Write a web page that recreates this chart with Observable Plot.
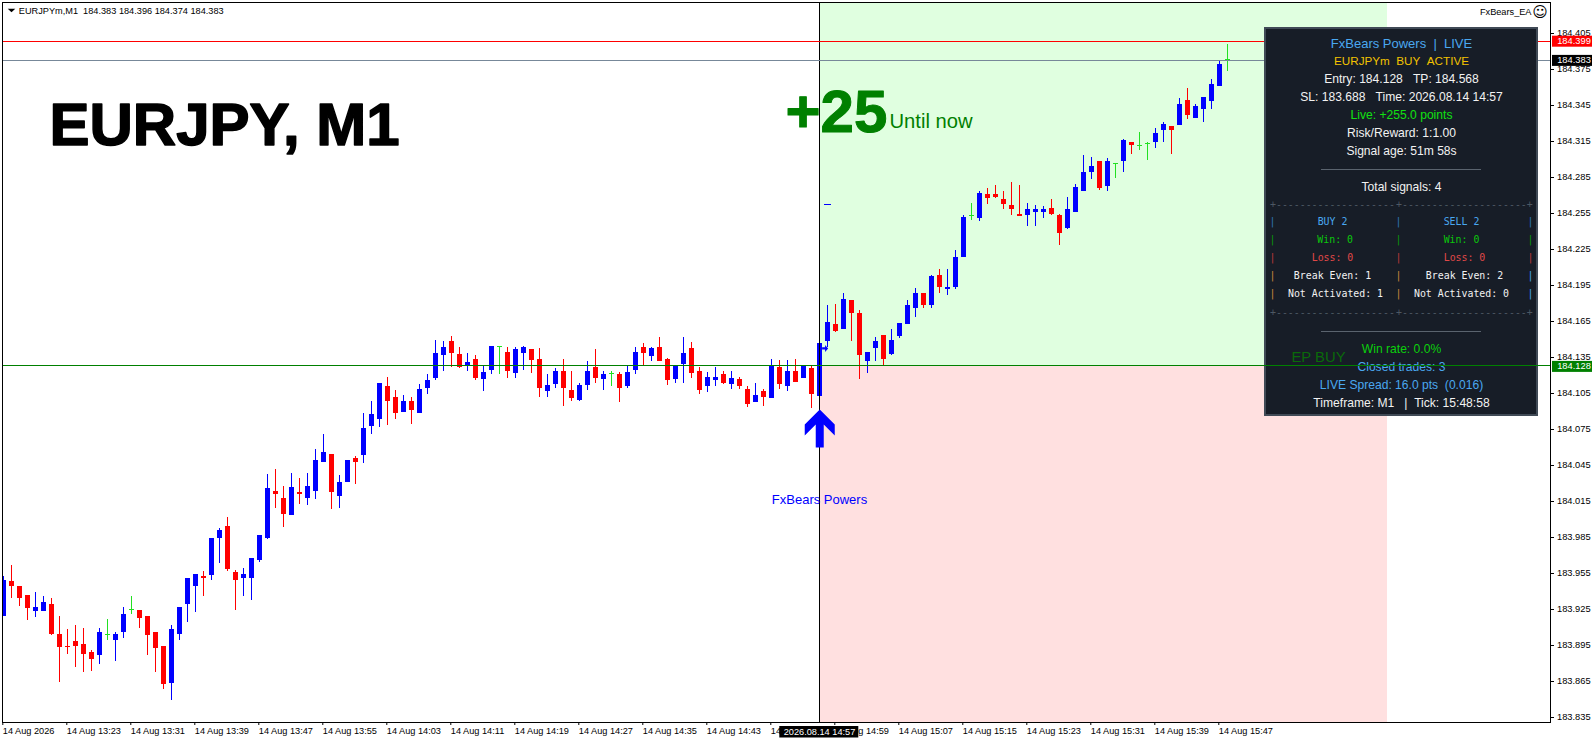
<!DOCTYPE html>
<html><head><meta charset="utf-8">
<style>html,body{margin:0;padding:0;background:#fff;overflow:hidden}svg{display:block}</style>
<script src="https://cdn.jsdelivr.net/npm/d3@7"></script>
<script src="https://cdn.jsdelivr.net/npm/@observablehq/plot@0.6"></script>
</head><body><div id="chart"></div>
<script>
const open = [
183.920,183.949,183.945,183.937,183.924,183.924,183.930,183.905,183.895,183.899,
183.896,183.890,183.887,183.904,183.900,183.906,183.925,183.925,183.920,183.906,
183.895,183.864,183.905,183.930,183.945,183.953,183.954,183.985,183.995,183.956,
183.951,183.951,183.966,183.985,184.024,184.018,184.004,184.023,184.018,184.024,
184.048,184.055,184.020,184.031,184.051,184.054,184.078,184.084,184.111,184.102,
184.090,184.099,184.089,184.110,184.118,184.137,184.149,184.138,184.129,184.134,
184.117,184.125,184.144,184.140,184.122,184.139,184.142,184.134,184.107,184.113,
184.124,184.108,184.100,184.112,184.127,184.117,184.122,184.121,184.111,184.125,
184.144,184.136,184.144,184.134,184.117,184.130,184.143,184.124,184.111,184.116,
184.121,184.113,184.117,184.109,184.098,184.107,184.101,184.127,184.111,184.124,
184.118,184.126,184.103,184.149,184.163,184.159,184.183,184.172,184.132,184.143,
184.154,184.138,184.153,184.163,184.176,184.189,184.179,184.204,184.192,184.194,
184.219,184.253,184.251,184.271,184.271,184.267,184.262,184.255,184.254,184.256,
184.256,184.260,184.254,184.243,184.256,184.274,184.290,184.299,184.278,184.297,
184.299,184.315,184.312,184.313,184.315,184.325,184.328,184.329,184.350,184.335,
184.342,184.349,184.361,184.383];
const close = [
183.950,183.945,183.935,183.926,183.927,183.931,183.905,183.894,183.894,183.895,
183.888,183.884,183.906,183.904,183.905,183.921,183.925,183.918,183.904,183.893,
183.863,183.909,183.927,183.951,183.955,183.951,183.985,183.991,183.959,183.950,
183.955,183.968,183.987,184.026,184.021,184.005,184.027,184.021,184.028,184.050,
184.056,184.023,184.031,184.050,184.048,184.076,184.088,184.114,184.099,184.089,
184.099,184.091,184.109,184.116,184.139,184.144,184.139,184.127,184.131,184.118,
184.123,184.145,184.144,184.124,184.142,184.144,184.133,184.110,184.112,184.124,
184.110,184.101,184.112,184.124,184.118,184.121,184.122,184.110,184.123,184.140,
184.139,184.143,184.132,184.116,184.129,184.139,184.122,184.108,184.119,184.119,
184.114,184.118,184.111,184.096,184.104,184.102,184.129,184.113,184.124,184.115,
184.129,184.105,184.147,184.165,184.157,184.184,184.172,184.137,184.140,184.149,
184.134,184.150,184.164,184.179,184.189,184.179,184.203,184.194,184.194,184.219,
184.252,184.253,184.272,184.268,184.269,184.263,184.259,184.253,184.259,184.259,
184.259,184.255,184.239,184.259,184.277,184.290,184.295,184.276,184.299,184.297,
184.316,184.312,184.312,184.313,184.322,184.330,184.325,184.346,184.337,184.345,
184.352,184.363,184.380,184.383];
const high = [
183.953,183.962,183.945,183.937,183.940,183.936,183.935,183.920,183.909,183.912,
183.910,183.891,183.910,183.917,183.906,183.927,183.936,183.925,183.920,183.906,
183.895,183.912,183.927,183.951,183.955,183.957,183.985,183.993,184.002,183.958,
183.960,183.968,183.987,184.038,184.042,184.028,184.039,184.035,184.039,184.059,
184.071,184.055,184.037,184.050,184.053,184.089,184.099,184.114,184.119,184.108,
184.104,184.102,184.113,184.121,184.150,184.149,184.153,184.144,184.139,184.137,
184.129,184.145,184.145,184.144,184.144,184.145,184.142,184.143,184.121,184.126,
184.134,184.124,184.114,184.132,184.142,184.124,184.124,184.123,184.129,184.144,
184.147,184.144,184.152,184.135,184.129,184.152,184.148,184.127,184.123,184.127,
184.124,184.124,184.119,184.111,184.114,184.109,184.134,184.133,184.133,184.134,
184.129,184.128,184.147,184.179,184.180,184.189,184.183,184.175,184.140,184.152,
184.154,184.159,184.164,184.183,184.193,184.189,184.204,184.209,184.209,184.225,
184.254,184.264,184.274,184.276,184.279,184.274,184.281,184.279,184.264,184.262,
184.261,184.267,184.255,184.269,184.280,184.304,184.302,184.299,184.301,184.297,
184.317,184.315,184.323,184.315,184.326,184.331,184.328,184.351,184.360,184.346,
184.352,184.367,184.383,184.396];
const low = [
183.920,183.935,183.928,183.916,183.919,183.924,183.904,183.865,183.888,183.877,
183.873,183.874,183.880,183.900,183.882,183.901,183.921,183.910,183.887,183.873,
183.859,183.850,183.900,183.915,183.923,183.936,183.950,183.964,183.957,183.925,
183.936,183.933,183.965,183.984,184.010,183.994,184.004,184.013,184.012,184.017,
184.048,184.009,184.010,184.031,184.030,184.047,184.071,184.077,184.079,184.084,
184.090,184.080,184.089,184.105,184.116,184.124,184.127,184.126,184.124,184.116,
184.107,184.121,184.121,184.118,184.118,184.125,184.122,184.102,184.102,184.110,
184.095,184.099,184.099,184.108,184.114,184.108,184.111,184.098,184.110,184.121,
184.129,184.132,184.132,184.112,184.114,184.114,184.118,184.105,184.106,184.111,
184.113,184.109,184.109,184.094,184.098,184.095,184.101,184.109,184.107,184.115,
184.118,184.093,184.103,184.144,184.156,184.159,184.149,184.117,184.122,184.132,
184.128,184.137,184.151,184.163,184.169,184.176,184.176,184.189,184.187,184.192,
184.219,184.250,184.249,184.263,184.268,184.259,184.254,184.253,184.245,184.245,
184.251,184.254,184.229,184.242,184.256,184.274,184.284,184.275,184.274,184.285,
184.290,184.305,184.308,184.300,184.310,184.315,184.305,184.329,184.334,184.335,
184.331,184.342,184.361,184.374];

const priceTicks = [184.405,184.375,184.345,184.315,184.285,184.255,184.225,184.195,184.165,184.135,184.105,184.075,184.045,184.015,183.985,183.955,183.925,183.895,183.865,183.835];
const timeTickBars = [0,8,16,24,32,40,48,56,64,72,80,88,96,104,112,120,128,136,144,152];
const timeTickLabels = ["14 Aug 2026","14 Aug 13:23","14 Aug 13:31","14 Aug 13:39","14 Aug 13:47","14 Aug 13:55","14 Aug 14:03","14 Aug 14:11","14 Aug 14:19","14 Aug 14:27","14 Aug 14:35","14 Aug 14:43","14 Aug 14:51","14 Aug 14:59","14 Aug 15:07","14 Aug 15:15","14 Aug 15:23","14 Aug 15:31","14 Aug 15:39","14 Aug 15:47"];

const signalBar = 102, zoneEndBar = 173;
const entry = 184.128, tp = 184.568, sl = 183.688, ask = 184.399, bid = 184.383;
const signalTime = "2026.08.14 14:57";

const BLUE = "#0000ff", RED = "#ff0000", LIME = "#22e022", GREEN = "#008000";
const SANS = "Liberation Sans", MONO = "DejaVu Sans Mono";
const M = {left: 2, right: 46, top: 2, bottom: 21};

const bars = d3.range(open.length);
const ups = bars.filter(i => close[i] > open[i]);
const downs = bars.filter(i => close[i] < open[i]);
const dojis = bars.filter(i => close[i] === open[i]);

function candles(group, color) {
  return [
    Plot.ruleX(group, {x: i => i, y1: i => low[i], y2: i => high[i], stroke: color, strokeWidth: 1, shapeRendering: "crispEdges", clip: true}),
    group === dojis
      ? Plot.ruleY(group, {y: i => close[i], x1: i => i - 0.25, x2: i => i + 0.375, dy: -0.5, stroke: color, strokeWidth: 1, shapeRendering: "crispEdges"})
      : Plot.ruleX(group, {x: i => i, y1: i => open[i], y2: i => close[i], stroke: color, strokeWidth: 5, shapeRendering: "crispEdges", clip: true})
  ];
}
// text placed by page position
const label = (t, x, y, o = {}) => Plot.text([t], {
  text: d => d, frameAnchor: "top-left", dx: x - M.left, dy: y - M.top,
  lineAnchor: "middle", textAnchor: "start", fontFamily: SANS, ...o});
const panelSans = (t, y, fill, size = 12.1) => label(t, 1401, y, {textAnchor: "middle", fill, fontSize: size});
const panelMono = (t, x, y, fill) => label(t, x, y, {textAnchor: "middle", fill, fontSize: 9.9, fontFamily: MONO});
const ruler = (t, x, y) => label(t, x, y, {fontSize: 9.9, fontFamily: MONO, fill: "#4d5863"});

const priceTag = (p, fill) => [
  (index, scales) => {
    const y = scales.y(p);
    return d3.create("svg:rect").attr("x", 1552).attr("y", y - 5).attr("width", 40).attr("height", 11).attr("fill", fill).node();
  },
  Plot.text([p], {y: d => d, text: d3.format(".3f"), frameAnchor: "right", dx: 6.7, textAnchor: "start", fill: "white", fontSize: 9.3, fontFamily: SANS})
];
const panelBox = () => d3.create("svg:rect").attr("x", 1265).attr("y", 28).attr("width", 272).attr("height", 387)
  .attr("fill", "#171d27").attr("stroke", "#404a56").attr("stroke-width", 2).node();
const panelLine = y => () => d3.create("svg:line").attr("x1", 1321).attr("x2", 1481).attr("y1", y).attr("y2", y)
  .attr("stroke", "#5a636e").node();
const arrowSymbol = pts => ({draw(ctx) {
  pts.forEach(([a, b], j) => j ? ctx.lineTo(a, b) : ctx.moveTo(a, b));
  ctx.closePath();
}});
const upArrow = arrowSymbol([[0,-19],[15,-4],[15,7],[4,-4],[4,19],[-4,19],[-4,-4],[-15,7],[-15,-4]]);
const rightArrow = arrowSymbol([[-3,-1.2],[0,-1.2],[0,-3.5],[3,0],[0,3.5],[0,1.2],[-3,1.2]]);
const menuArrow = arrowSymbol([[-3.8,-1.8],[3.8,-1.8],[0,1.8]]);

const tickText = new Map(timeTickBars.map((b, i) => [b, timeTickLabels[i]]));
const BL = "#4aa8f0", WH = "#f2f2f2", GR = "#0bc80b", LS = "#e04848", OR = "#d08a3c";

const chart = Plot.plot({
  width: 1596, height: 743,
  marginLeft: M.left, marginRight: M.right, marginTop: M.top, marginBottom: M.bottom,
  x: {type: "linear", domain: [-0.125, 193.375]},
  y: {type: "linear", domain: [183.83125, 184.43125]},
  style: {fontFamily: SANS, background: "#fff", color: "#000", overflow: "visible"},
  marks: [
    // trade zones
    Plot.rect([0], {x1: signalBar, x2: zoneEndBar, y1: entry, y2: tp, fill: "#e0ffe0", clip: true}),
    Plot.rect([0], {x1: signalBar, x2: zoneEndBar, y1: sl, y2: entry, fill: "#ffe0e0", clip: true}),
    // candles
    ...candles(ups, BLUE), ...candles(downs, RED), ...candles(dojis, LIME),
    // levels and signal
    Plot.ruleX([signalBar], {stroke: "#000", strokeWidth: 1}),
    Plot.ruleY([ask], {stroke: "#ff0000", shapeRendering: "crispEdges"}),
    Plot.ruleY([bid], {stroke: "#778899", shapeRendering: "crispEdges"}),
    Plot.dot([0], {x: signalBar + 0.03, y: 184.0762, r: 16, symbol: upArrow, fill: BLUE, stroke: "none"}),
    Plot.dot([0], {x: 102.7, y: 184.143, r: 4, symbol: rightArrow, fill: BLUE, stroke: "none"}),
    Plot.ruleY([184.263], {x1: 102.6, x2: 103.5, stroke: BLUE, shapeRendering: "crispEdges"}),
    Plot.text(["FxBears Powers"], {text: d => d, x: signalBar, y: 184.017, fill: BLUE, fontSize: 13, fontFamily: SANS}),
    // big labels
    label("EURJPY, M1", 49, 125, {fontSize: 60, fontWeight: 700, fill: "#000", stroke: "#000", strokeWidth: 1.5}),
    label("+25", 785, 112, {fontSize: 60, fontWeight: 700, fill: GREEN, stroke: GREEN, strokeWidth: 1}),
    label("Until now", 889, 121, {fontSize: 20.2, fill: GREEN}),
    // header
    Plot.dot([0], {frameAnchor: "top-left", dx: 9, dy: 8, r: 4, symbol: menuArrow, fill: "#000", stroke: "none"}),
    label("EURJPYm,M1\u00a0\u00a0184.383 184.396 184.374 184.383", 18.3, 10.5, {fontSize: 9.2, fill: "#000"}),
    label("FxBears_EA", 1531, 11.5, {fontSize: 9.2, textAnchor: "end", fill: "#000"}),
    label("\u263A", 1539.5, 12, {fontSize: 15, textAnchor: "middle", fontFamily: "DejaVu Sans", fill: "#000"}),
    // info panel
    panelBox,
    panelSans("FxBears Powers\u00a0\u00a0|\u00a0\u00a0LIVE", 43.3, BL, 13),
    panelSans("EURJPYm\u00a0\u00a0BUY\u00a0\u00a0ACTIVE", 60.7, "#f2c200", 11.7),
    panelSans("Entry: 184.128\u00a0\u00a0\u00a0TP: 184.568", 79, WH),
    panelSans("SL: 183.688\u00a0\u00a0\u00a0Time: 2026.08.14 14:57", 97, WH),
    panelSans("Live: +255.0 points", 115, "#11e011"),
    panelSans("Risk/Reward: 1:1.00", 132.7, WH),
    panelSans("Signal age: 51m 58s", 150.7, WH),
    panelLine(169.5),
    panelSans("Total signals: 4", 186.7, WH),
    ruler("+--------------------", 1269.5, 204),
    ruler("+---------------------+", 1395.5, 204),
    ruler("+--------------------", 1269.5, 312),
    ruler("+---------------------+", 1395.5, 312),
    ...[[221.7, "#2f78b8"], [239.3, "#0a9a0a"], [257.3, "#c03a3a"], [275.3, OR], [293.3, OR]].flatMap(([y, col], r) => [
      panelMono("|", 1272, y, col), panelMono("|", 1398, y, col), panelMono("|", 1530, y, r > 2 ? BL : col)
    ]),
    panelMono("BUY 2", 1332, 221.7, BL), panelMono("SELL 2", 1461, 221.7, BL),
    panelMono("Win: 0", 1334.7, 239.3, GR), panelMono("Win: 0", 1461, 239.3, GR),
    panelMono("Loss: 0", 1332, 257.3, LS), panelMono("Loss: 0", 1464, 257.3, LS),
    panelMono("Break Even: 1", 1332, 275.3, WH), panelMono("Break Even: 2", 1464, 275.3, WH),
    panelMono("Not Activated: 1", 1335, 293.3, WH), panelMono("Not Activated: 0", 1461, 293.3, WH),
    panelLine(331.5),
    panelSans("Win rate: 0.0%", 348.7, "#0bd00b"),
    panelSans("Closed trades: 3", 366.7, BL),
    panelSans("LIVE Spread: 16.0 pts\u00a0\u00a0(0.016)", 384.7, BL),
    panelSans("Timeframe: M1\u00a0\u00a0\u00a0|\u00a0\u00a0Tick: 15:48:58", 402.7, WH),
    // entry level above the panel
    Plot.ruleY([entry], {stroke: GREEN, dy: -0.9, shapeRendering: "crispEdges"}),
    Plot.text(["EP BUY"], {text: d => d, x: 161, y: entry, textAnchor: "start", lineAnchor: "bottom", dy: -4, fill: "#0a6a0a", fontSize: 14.8, fontFamily: SANS}),
    // frame and axes
    Plot.frame({stroke: "#000"}),
    Plot.axisX({anchor: "bottom", ticks: timeTickBars, tickFormat: k => tickText.get(k), tickSize: 3, tickPadding: 2, textAnchor: "start", fontSize: 9.2, label: null, fontFamily: SANS, dx: -0.7}),
    Plot.axisY({anchor: "right", ticks: priceTicks, tickFormat: d3.format(".3f"), tickSize: 3, tickPadding: 3.5, fontSize: 9.3, label: null, fontFamily: SANS, dy: -0.5}),
    ...priceTag(ask, "#ff0000"),
    ...priceTag(bid, "#000000"),
    ...priceTag(entry, GREEN),
    // crosshair time tag
    (index, scales) => d3.create("svg:rect").attr("x", scales.x(signalBar) - 39.7).attr("y", 726).attr("width", 79).attr("height", 11.5).attr("fill", "#000").node(),
    Plot.text([signalTime], {text: d => d, x: signalBar, frameAnchor: "bottom", dy: 9.7, lineAnchor: "middle", textAnchor: "middle", fill: "#fff", fontSize: 9.2, fontFamily: SANS})
  ]
});
document.getElementById("chart").appendChild(chart);
</script></body></html>
